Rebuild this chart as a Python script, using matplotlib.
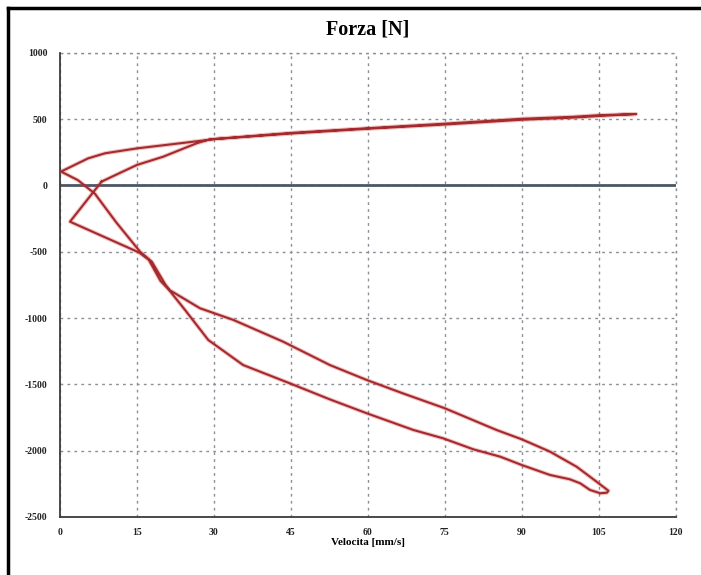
import numpy as np
import matplotlib
matplotlib.use("Agg")
import matplotlib.pyplot as plt
from matplotlib.lines import Line2D

velocita = [8.1, 10.1, 15.0, 20.1, 26.6, 29.2, 44.8, 60.4, 75.0, 90.0, 100.0, 105.0, 112.3,
            105.0, 100.0, 90.0, 75.0, 60.0, 45.0, 30.2, 24.4, 15.0, 8.8, 5.5, 0.2,
            3.5, 6.8, 11.0, 15.6, 17.9, 20.5, 21.4,
            27.3, 33.8, 43.5, 52.6, 59.8, 67.0, 75.0, 85.1, 90.0, 95.5, 100.7, 104.6, 106.9,
            106.6, 105.3, 103.3, 101.4, 99.4, 95.5, 90.0, 85.8, 80.6, 74.7, 68.9, 59.8, 52.6,
            44.8, 35.7, 28.9, 24.4, 21.2, 19.6, 17.3, 15.4, 1.95, 8.1]
forza = [29, 66, 155, 217, 318, 348, 396, 433, 466, 503, 518, 530, 539,
         524, 512, 496, 460, 428, 392, 350, 323, 280, 243, 205, 105,
         40, -62, -280, -499, -575, -745, -790,
         -926, -1014, -1178, -1354, -1467, -1570, -1680, -1844, -1914, -2007, -2121, -2234, -2302,
         -2317, -2321, -2296, -2246, -2216, -2183, -2108, -2045, -1990, -1907, -1844, -1718, -1613,
         -1492, -1354, -1165, -940, -785, -720, -560, -505, -273, 29]

xticks = [0, 15, 30, 45, 60, 75, 90, 105, 120]
yticks = [1000, 500, 0, -500, -1000, -1500, -2000, -2500]

serif = ["Liberation Serif", "DejaVu Serif"]

fig = plt.figure(figsize=(7.01, 5.75), dpi=100)
ax = fig.add_axes([0.0856, 0.1009, 0.8782, 0.8071])

ax.set_xlim(0, 120)
ax.set_ylim(-2500, 1000)
ax.set_xticks(xticks)
ax.set_yticks(yticks)
ax.set_xticklabels([str(t) for t in xticks], fontfamily=serif, fontweight="bold", fontsize=7, color="#222222")
ax.set_yticklabels([str(t) for t in yticks], fontfamily=serif, fontweight="bold", fontsize=7, color="#222222")
ax.tick_params(length=0)
ax.tick_params(axis="x", pad=8)
ax.tick_params(axis="y", pad=9)

ax.grid(True, color="#8a8f96", linestyle=(0, (2, 3)), linewidth=1.0)
for s in ["top", "right"]:
    ax.spines[s].set_visible(False)
# dotted frame on top and right, like the grid
ax.axhline(1000, color="#8a8f96", linestyle=(0, (2, 3)), linewidth=1.0, clip_on=False)
ax.axvline(120, color="#8a8f96", linestyle=(0, (2, 3)), linewidth=1.0, clip_on=False)
for s in ["left", "bottom"]:
    ax.spines[s].set_color("#3c3c3c")
    ax.spines[s].set_linewidth(1.3)

ax.axhline(0, color="#4e5666", linewidth=2.0, zorder=2)

ax.plot(velocita, forza, color="#d23a3a", linewidth=3.0, alpha=0.3, zorder=3)
ax.plot(velocita, forza, color="#a52a2e", linewidth=1.5, zorder=4)

ax.set_title("Forza [N]", fontfamily=serif, fontweight="bold", fontsize=14.5, pad=13)
ax.set_xlabel("Velocita [mm/s]", fontfamily=serif, fontweight="bold", fontsize=8, labelpad=1)

# border of the original screenshot (top and left)
fig.add_artist(Line2D([8 / 701, 1], [1 - 8 / 575, 1 - 8 / 575], color="black", linewidth=2.5,
                      transform=fig.transFigure))
fig.add_artist(Line2D([8 / 701, 8 / 701], [0, 1 - 8 / 575], color="black", linewidth=2.5,
                      transform=fig.transFigure))

fig.savefig("out.png", dpi=100)
